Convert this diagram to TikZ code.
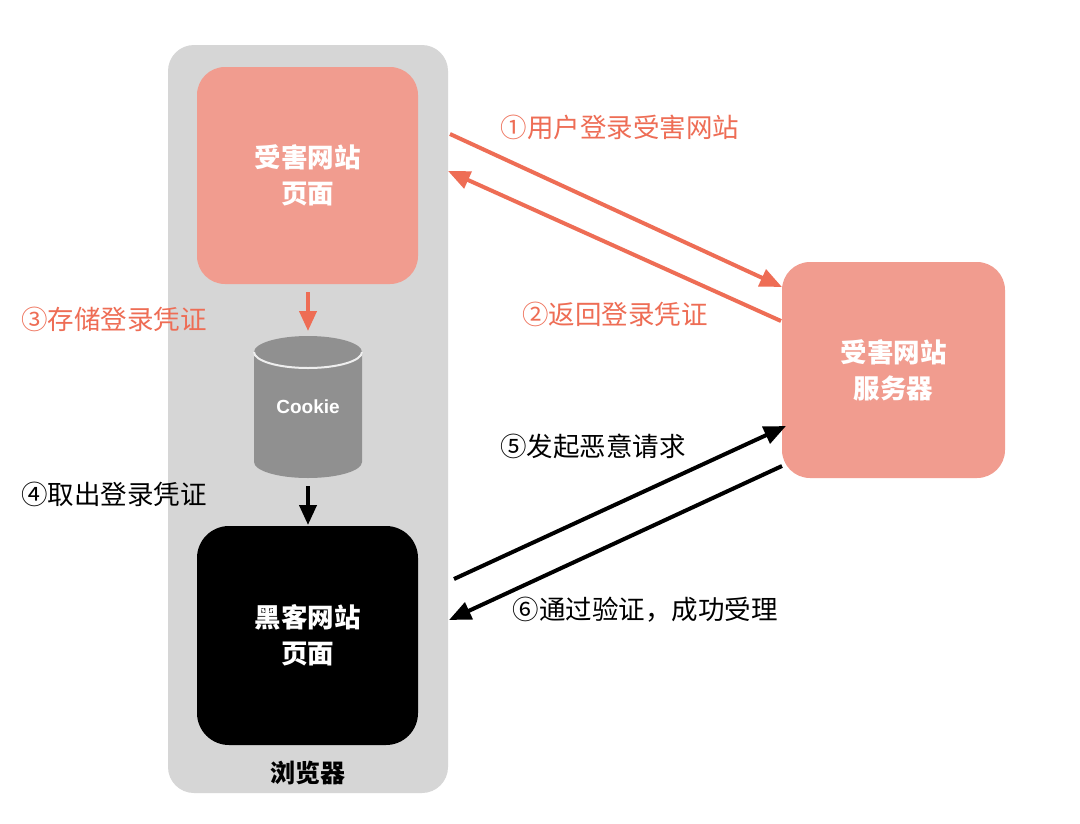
\documentclass[tikz,border=0pt]{standalone}
\usepackage{fontspec}
\setmainfont{Noto Sans CJK SC}
\newfontfamily\latinb{Liberation Sans}
\usetikzlibrary{arrows.meta}
\definecolor{pinkfill}{HTML}{F19C8F}
\definecolor{orangered}{HTML}{EE6D55}
\definecolor{browsergray}{HTML}{D6D6D6}
\definecolor{cylgray}{HTML}{909090}
\begin{document}
\begin{tikzpicture}[x=1pt,y=-1pt,
  box/.style={rounded corners=28pt, minimum width=221pt, minimum height=217pt, inner sep=0pt,
    align=center, text=white, font=\fontsize{26.5}{36}\selectfont\bfseries},
  lbl/.style={font=\fontsize{26.5}{30}\selectfont, inner sep=0pt},
  arr/.style={line width=4pt, -{Triangle[length=22pt,width=18pt]}},
  sarr/.style={line width=4pt, -{Triangle[length=20pt,width=17pt]}}
]
\useasboundingbox (0,0) rectangle (1080,823);
\fill[white] (0,0) rectangle (1080,823);
% browser
\node[fill=browsergray, rounded corners=26pt, minimum width=280pt, minimum height=748pt, inner sep=0pt] (browser) at (308,419) {};
\node[font=\fontsize{25}{30}\selectfont\bfseries, inner sep=0pt] (browserlbl) at (308,773) {浏览器};
% boxes
\node[box, fill=pinkfill] (page) at (307.5,175.5) {受害网站\\页面};
\node[box, fill=black, rounded corners=32pt, minimum height=219pt] (hacker) at (307.5,635.5) {黑客网站\\页面};
\node[box, fill=pinkfill, minimum width=223pt, minimum height=216pt] (server) at (893.5,370) {受害网站\\服务器};
% cookie cylinder
\fill[cylgray] (254,352) -- (254,462) arc[start angle=180, end angle=0, x radius=54, y radius=16] -- (362,352) arc[start angle=0, end angle=-180, x radius=54, y radius=16] -- cycle;
\draw[white!85!cylgray, line width=2pt] (254,352) arc[start angle=180, end angle=0, x radius=54, y radius=16];
\node[font=\latinb\fontsize{19}{22}\selectfont\bfseries, text=white, minimum width=108pt, minimum height=142pt, inner sep=0pt] (cookie) at (308,407) {Cookie};
% vertical arrows
\coordinate (c3s) at (308,292);
\coordinate (c3e) at (308,331);
\coordinate (c4s) at (308,486);
\coordinate (c4e) at (308,525);
\draw[sarr, orangered] (c3s) -- (c3e);
\draw[sarr, black] (c4s) -- (c4e);
% diagonal arrows
\coordinate (a1s) at (450,134);
\coordinate (a1e) at (782,287);
\coordinate (a2s) at (781,321);
\coordinate (a2e) at (448,171);
\coordinate (a5s) at (454,579);
\coordinate (a5e) at (786,426);
\coordinate (a6s) at (782,466);
\coordinate (a6e) at (449,620);
\draw[arr, orangered] (a1s) -- (a1e);
\draw[arr, orangered] (a2s) -- (a2e);
\draw[arr, black] (a5s) -- (a5e);
\draw[arr, black] (a6s) -- (a6e);
% labels
\node[lbl, text=orangered] (l1) at (620,127) {①用户登录受害网站};
\node[lbl, text=orangered] (l2) at (615,314) {②返回登录凭证};
\node[lbl, text=orangered] (l3) at (114,319) {③存储登录凭证};
\node[lbl, text=black] (l4) at (114,494) {④取出登录凭证};
\node[lbl, text=black] (l5) at (593,446) {⑤发起恶意请求};
\node[lbl, text=black] (l6) at (645,610) {⑥通过验证，成功受理};
\end{tikzpicture}
\end{document}
